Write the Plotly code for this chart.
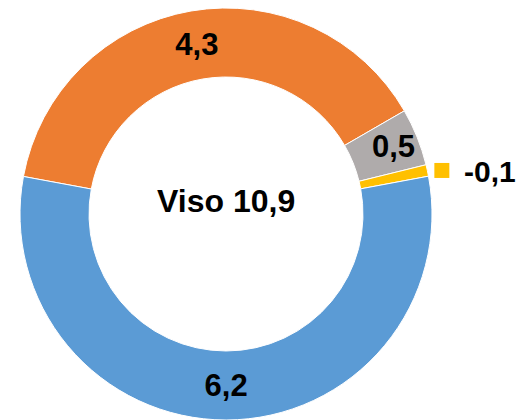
import math
import plotly.graph_objects as go

# slices in clockwise order, starting at the left (orange)
categories = ["Arancione", "Grigio", "Giallo", "Blu"]
values = [4.3, 0.5, -0.1, 6.2]
colors = ["#ED7D31", "#AFABAB", "#FFC000", "#5B9BD5"]
center_label = "Viso"

W, H = 532, 420
OFF = 8  # page body margin the figure sits in
cx, cy, R = 226 - OFF, 214 - OFF, 206
start_angle = 169.5  # degrees, math convention (ccw from 3 o'clock)
FONT = "Liberation Sans, Arial"

fmt = lambda v: f"{v:.1f}".replace(".", ",")
sizes = [abs(v) for v in values]
total = sum(values)
# negative value gets its label outside, next to a legend-like key
texts = [fmt(v) if v > 0 else "" for v in values]

fig = go.Figure(go.Pie(
    labels=categories,
    values=sizes,
    text=texts,
    textinfo="text",
    textposition="inside",
    insidetextorientation="horizontal",
    textfont=dict(family=FONT, size=31, color="black", weight="bold"),
    marker=dict(colors=colors, line=dict(color="white", width=1)),
    hole=0.665,
    sort=False,
    direction="clockwise",
    rotation=90 - start_angle,
    domain=dict(x=[(cx - R) / W, (cx + R) / W], y=[1 - (cy + R) / H, 1 - (cy - R) / H]),
    hoverinfo="label+value",
))

# outside label for negative slice
acc = 0
for v, s, c in zip(values, sizes, colors):
    mid = start_angle - (acc + s / 2) / sum(sizes) * 360
    acc += s
    if v < 0:
        a = math.radians(mid)
        px = cx + R * math.cos(a) + 7
        py = cy - R * math.sin(a)
        fig.add_shape(type="rect", xref="paper", yref="paper",
                      x0=px / W, x1=(px + 15) / W,
                      y0=1 - (py + 7.5) / H, y1=1 - (py - 7.5) / H,
                      fillcolor=c, line=dict(width=0))
        fig.add_annotation(x=(px + 28) / W, y=1 - (py + 1) / H, xref="paper", yref="paper",
                           text=fmt(v), showarrow=False, xanchor="left", yanchor="middle",
                           font=dict(family=FONT, size=30, color="black", weight="bold"))

fig.add_annotation(x=cx / W, y=1 - (201 - OFF) / H, xref="paper", yref="paper",
                   text=f"{center_label} {fmt(total)}", showarrow=False,
                   xanchor="center", yanchor="middle",
                   font=dict(family=FONT, size=32, color="black", weight="bold"))

fig.update_layout(
    width=W, height=H,
    margin=dict(l=0, r=0, t=0, b=0),
    showlegend=False,
    paper_bgcolor="white",
    uniformtext=dict(minsize=31, mode="show"),
)

fig.write_html("out.html")
